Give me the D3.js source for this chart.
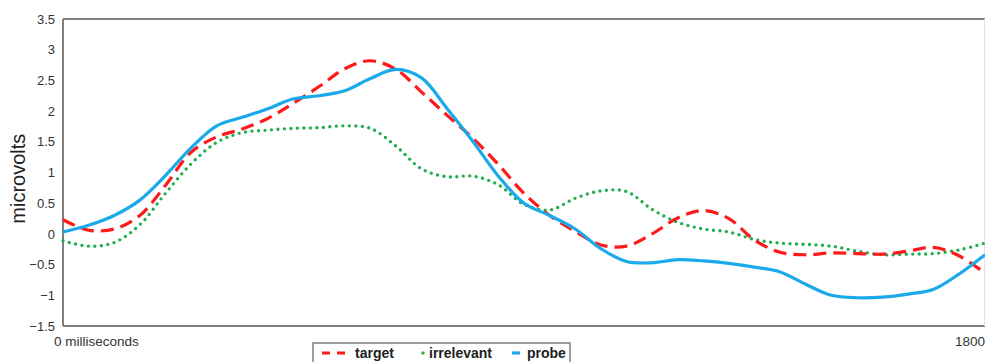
<!DOCTYPE html>
<html>
<head>
<meta charset="utf-8">
<script src="https://cdn.jsdelivr.net/npm/d3@7"></script>
<style>
  body { margin: 0; background: #fff; }
  text { font-family: "Liberation Sans", Arial, sans-serif; }
</style>
</head>
<body>
<div id="chart"></div>
<script>
// time points in ms, 50 ms apart
const times = d3.range(0, 1801, 50);
const target = [0.23, 0.06, 0.08, 0.3, 0.79, 1.33, 1.58, 1.71, 1.88, 2.13, 2.4, 2.69, 2.82, 2.68, 2.31,
                1.93, 1.56, 1.13, 0.66, 0.3, 0.04, -0.18, -0.2, 0.0, 0.26, 0.38, 0.25, -0.1, -0.3, -0.34,
                -0.31, -0.32, -0.33, -0.28, -0.22, -0.36, -0.64];
const irrelevant = [-0.11, -0.2, -0.14, 0.15, 0.66, 1.14, 1.49, 1.65, 1.69, 1.72, 1.73, 1.76, 1.72, 1.43, 1.06,
                    0.93, 0.94, 0.8, 0.48, 0.39, 0.58, 0.7, 0.69, 0.4, 0.19, 0.08, 0.03, -0.09, -0.15, -0.17,
                    -0.2, -0.28, -0.34, -0.33, -0.32, -0.26, -0.15];
const probe = [0.03, 0.14, 0.3, 0.55, 0.95, 1.4, 1.76, 1.9, 2.04, 2.2, 2.25, 2.33, 2.53, 2.68, 2.54,
               2.04, 1.51, 0.94, 0.5, 0.3, 0.08, -0.24, -0.45, -0.47, -0.42, -0.44, -0.48, -0.54, -0.62, -0.82,
               -1.0, -1.04, -1.03, -0.98, -0.9, -0.65, -0.34];
const yTicks = [-1.5, -1, -0.5, 0, 0.5, 1, 1.5, 2, 2.5, 3, 3.5];
const xLabels = ["0 milliseconds", "1800"];
const seriesNames = ["target", "irrelevant", "probe"];

const W = 985, H = 362;
const MARGIN = { LEFT: 63, RIGHT: 0, TOP: 19, BOTTOM: 36 };

const svg = d3.select("#chart").append("svg")
    .attr("width", W)
    .attr("height", H);

const x = d3.scaleLinear().domain([0, 1800]).range([MARGIN.LEFT, W - MARGIN.RIGHT]);
const y = d3.scaleLinear().domain([-1.5, 3.5]).range([H - MARGIN.BOTTOM, MARGIN.TOP]);

// y axis labels
const yAxis = svg.append("g")
    .attr("transform", `translate(${MARGIN.LEFT},0)`)
    .call(d3.axisLeft(y).tickValues(yTicks).tickSize(0).tickPadding(8).tickFormat(d3.format("")));
yAxis.select(".domain").remove();
yAxis.selectAll("text")
    .attr("font-size", 13)
    .attr("fill", "#333")
    .style("font-family", "Liberation Sans, Arial, sans-serif");

// frame
svg.append("line")
    .attr("x1", x(0)).attr("x2", x(1800))
    .attr("y1", y(3.5)).attr("y2", y(3.5))
    .attr("stroke", "#7f7f7f").attr("stroke-width", 2);
svg.append("line")
    .attr("x1", x(0)).attr("x2", x(1800))
    .attr("y1", y(-1.5)).attr("y2", y(-1.5))
    .attr("stroke", "#7f7f7f").attr("stroke-width", 2);
svg.append("line")
    .attr("x1", x(0)).attr("x2", x(0))
    .attr("y1", y(3.5)).attr("y2", y(-1.5))
    .attr("stroke", "#7f7f7f").attr("stroke-width", 2);
svg.append("line")
    .attr("x1", x(1800) - 0.5).attr("x2", x(1800) - 0.5)
    .attr("y1", y(3.5)).attr("y2", y(-1.5))
    .attr("stroke", "#e4e4e4").attr("stroke-width", 1);

// x labels
svg.append("text")
    .attr("x", x(0) - 9).attr("y", y(-1.5) + 20)
    .attr("font-size", 13.5).attr("fill", "#333")
    .text(xLabels[0]);
svg.append("text")
    .attr("x", x(1800)).attr("y", y(-1.5) + 20)
    .attr("text-anchor", "end")
    .attr("font-size", 13.5).attr("fill", "#333")
    .text(xLabels[1]);

// y title
svg.append("text")
    .attr("transform", `translate(25,${y(0.9)}) rotate(-90)`)
    .attr("text-anchor", "middle")
    .attr("font-size", 20).attr("fill", "#222")
    .text("microvolts");

const line = d3.line()
    .x((d, i) => x(times[i]))
    .y(d => y(d))
    .curve(d3.curveCatmullRom.alpha(0.5));

const styles = {
    target: { color: "#ff1a1a", dash: "13,7", width: 3.2, cap: "butt" },
    irrelevant: { color: "#1fae4e", dash: "0,6.5", width: 3.4, cap: "round" },
    probe: { color: "#1aa9ea", dash: null, width: 3.2, cap: "butt" }
};

const data = { target: target, irrelevant: irrelevant, probe: probe };

["irrelevant", "target", "probe"].forEach(name => {
    const s = styles[name];
    svg.append("path")
        .datum(data[name])
        .attr("fill", "none")
        .attr("stroke", s.color)
        .attr("stroke-width", s.width)
        .attr("stroke-linecap", s.cap)
        .attr("stroke-dasharray", s.dash)
        .attr("d", line);
});

// legend
const lg = svg.append("g").attr("transform", "translate(313,343)");
lg.append("rect")
    .attr("width", 257).attr("height", 24)
    .attr("fill", "#fff")
    .attr("stroke", "#7f7f7f").attr("stroke-width", 1.5);

const legendItems = [
    { name: seriesNames[0], x0: 9, x1: 32, tx: 42 },
    { name: seriesNames[1], x0: 110, x1: 110, tx: 116 },
    { name: seriesNames[2], x0: 199, x1: 207, tx: 214 }
];
legendItems.forEach(it => {
    const s = styles[it.name];
    lg.append("line")
        .attr("x1", it.x0).attr("x2", it.x1)
        .attr("y1", 10).attr("y2", 10)
        .attr("stroke", s.color)
        .attr("stroke-width", s.width)
        .attr("stroke-linecap", s.cap)
        .attr("stroke-dasharray", it.name === "target" ? "8,7" : null);
    lg.append("text")
        .attr("x", it.tx).attr("y", 15)
        .attr("font-size", 14).attr("font-weight", "bold").attr("fill", "#222")
        .text(it.name);
});
</script>
</body>
</html>
